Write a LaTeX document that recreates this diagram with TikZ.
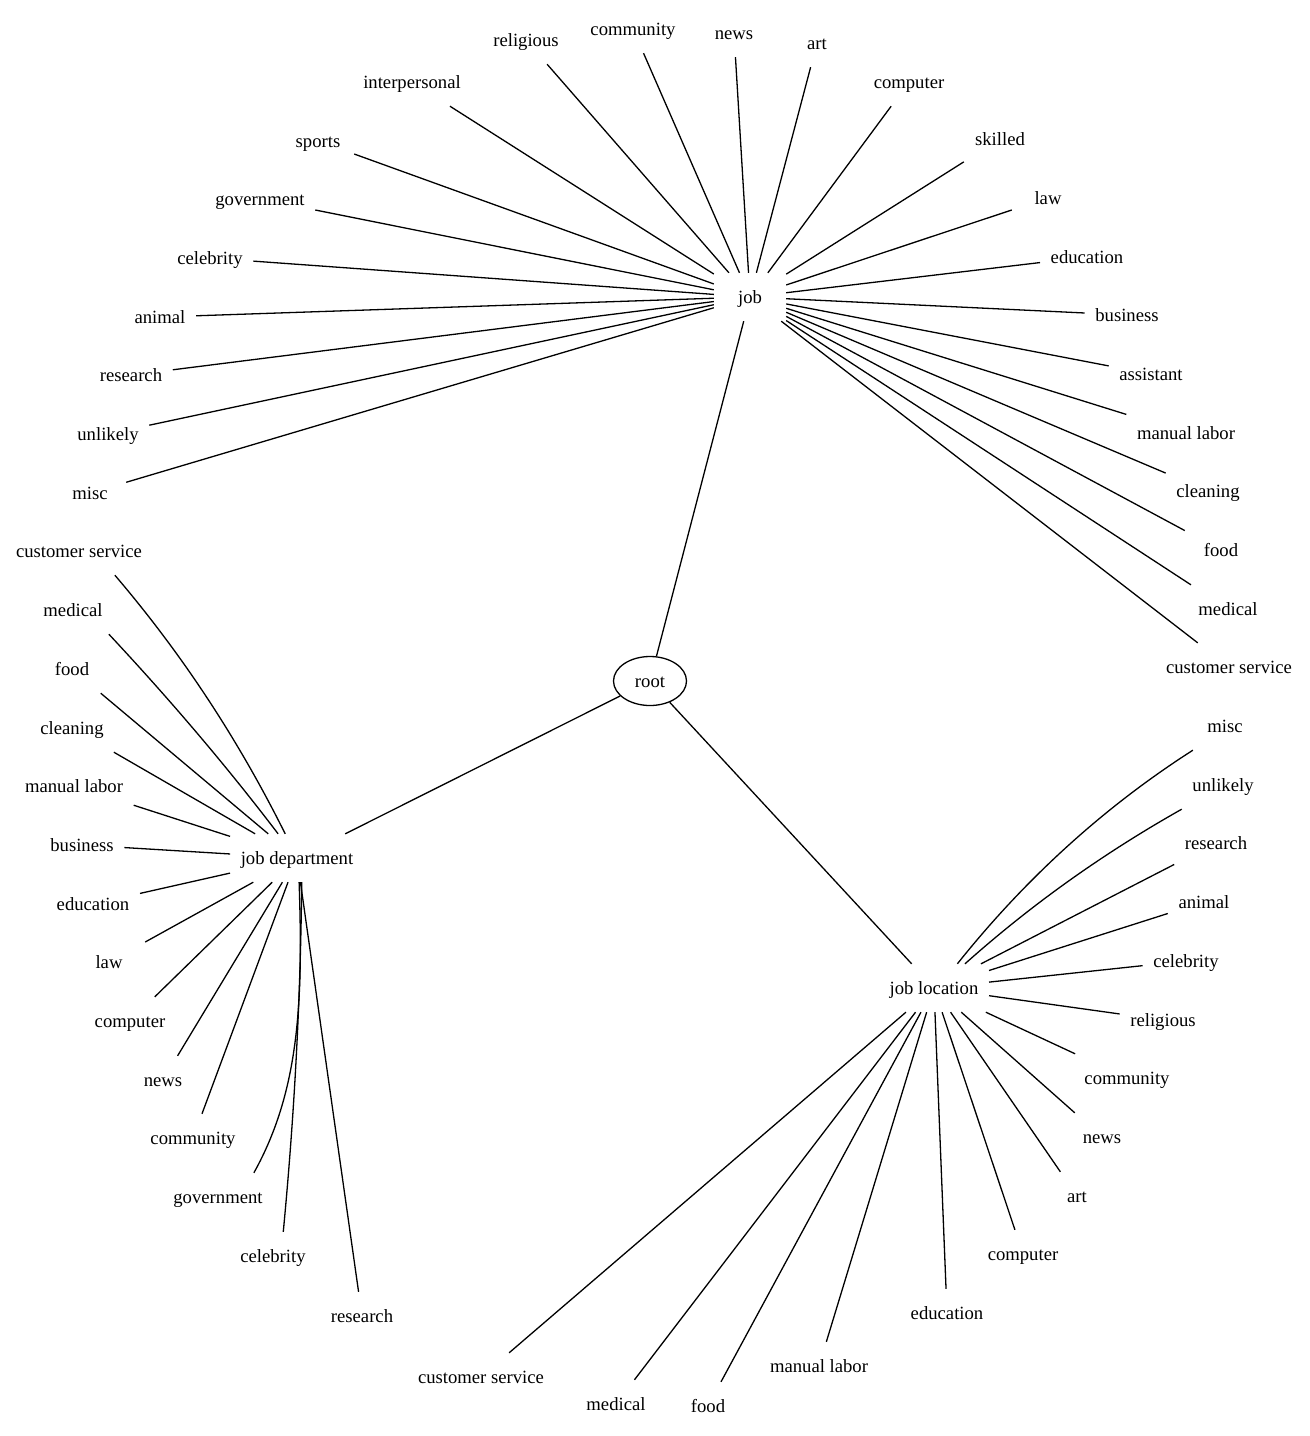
\documentclass[tikz,border=0pt]{standalone}
\usepackage{fontspec}
\setmainfont{Liberation Serif}
\usetikzlibrary{shapes.geometric}
\begin{document}
\begin{tikzpicture}[x=1pt,y=-1pt,
  lbl/.style={font=\fontsize{18.67}{22}\selectfont, minimum width=72pt, minimum height=48pt,
    inner xsep=10.5pt, inner ysep=0pt, text height=17pt, text depth=5pt},
  rootnode/.style={draw, ellipse, line width=1.3pt, font=\fontsize{18.67}{22}\selectfont,
    minimum width=73pt, minimum height=49pt, inner sep=0pt, text height=17pt, text depth=5pt},
  edge/.style={line width=1.3pt}]
\path[fill=white, use as bounding box] (0,0) rectangle (1310,1436);

% hubs
\node[rootnode] (root) at (650,681) {root};
\node[lbl] (job) at (750,297) {job};
\node[lbl] (dep) at (297,858) {job department};
\node[lbl] (loc) at (934,988) {job location};

% job leaves
\node[lbl] (jrel) at (526,40) {religious};
\node[lbl] (jcom) at (633,29) {community};
\node[lbl] (jnew) at (734,33) {news};
\node[lbl] (jart) at (817,43) {art};
\node[lbl] (jcmp) at (909,82) {computer};
\node[lbl] (jski) at (1000,139) {skilled};
\node[lbl] (jlaw) at (1048,198) {law};
\node[lbl] (jedu) at (1087,257) {education};
\node[lbl] (jbus) at (1127,315) {business};
\node[lbl] (jass) at (1151,374) {assistant};
\node[lbl] (jman) at (1186,433) {manual labor};
\node[lbl] (jcln) at (1208,491) {cleaning};
\node[lbl] (jfoo) at (1221,550) {food};
\node[lbl] (jmed) at (1228,609) {medical};
\node[lbl] (jcus) at (1229,667) {customer service};
\node[lbl] (jint) at (412,82) {interpersonal};
\node[lbl] (jspo) at (318,141) {sports};
\node[lbl] (jgov) at (260,199) {government};
\node[lbl] (jcel) at (210,258) {celebrity};
\node[lbl] (jani) at (160,317) {animal};
\node[lbl] (jres) at (131,375) {research};
\node[lbl] (junl) at (108,434) {unlikely};
\node[lbl] (jmis) at (90,493) {misc};

% job department leaves
\node[lbl] (dcus) at (79,551) {customer service};
\node[lbl] (dmed) at (73,610) {medical};
\node[lbl] (dfoo) at (72,669) {food};
\node[lbl] (dcln) at (72,728) {cleaning};
\node[lbl] (dman) at (74,786) {manual labor};
\node[lbl] (dbus) at (82,845) {business};
\node[lbl] (dedu) at (93,904) {education};
\node[lbl] (dlaw) at (109,962) {law};
\node[lbl] (dcmp) at (130,1021) {computer};
\node[lbl] (dnew) at (163,1080) {news};
\node[lbl] (dcom) at (193,1138) {community};
\node[lbl] (dgov) at (218,1197) {government};
\node[lbl] (dcel) at (273,1256) {celebrity};
\node[lbl] (dres) at (362,1316) {research};

% job location leaves
\node[lbl] (lmis) at (1225,726) {misc};
\node[lbl] (lunl) at (1223,785) {unlikely};
\node[lbl] (lres) at (1216,843) {research};
\node[lbl] (lani) at (1204,902) {animal};
\node[lbl] (lcel) at (1186,961) {celebrity};
\node[lbl] (lrel) at (1163,1020) {religious};
\node[lbl] (lcom) at (1127,1078) {community};
\node[lbl] (lnew) at (1102,1137) {news};
\node[lbl] (lart) at (1077,1196) {art};
\node[lbl] (lcmp) at (1023,1254) {computer};
\node[lbl] (ledu) at (947,1313) {education};
\node[lbl] (lman) at (819,1366) {manual labor};
\node[lbl] (lfoo) at (708,1406) {food};
\node[lbl] (lmed) at (616,1404) {medical};
\node[lbl] (lcus) at (481,1377) {customer service};

% edges from root
\draw[edge] (root) -- (job);
\draw[edge] (root) -- (dep);
\draw[edge] (root) -- (loc);

% job edges
\foreach \n in {jrel,jcom,jnew,jart,jcmp,jski,jlaw,jedu,jbus,jass,jman,jcln,jfoo,jmed,jcus,jint,jspo,jgov,jcel,jani,jres,junl,jmis}
  \draw[edge] (job) -- (\n);

% job department edges
\foreach \n in {dfoo,dcln,dman,dbus,dedu,dlaw,dcmp,dnew,dcom,dres}
  \draw[edge] (dep) -- (\n);
\draw[edge] (dcus.-34) .. controls (183,655) and (239,741) .. (dep.116);
\draw[edge] (dmed.-34) .. controls (168.5,698) and (225,764) .. (dep.128);
\draw[edge] (dgov.34) .. controls (300,1090) and (303,1000) .. (dep.-85);
\draw[edge] (dcel.67) .. controls (294.4,1115) and (300.6,999) .. (dep.-79);

% job location edges
\foreach \n in {lres,lani,lcel,lrel,lcom,lnew,lart,lcmp,ledu,lman,lfoo,lmed,lcus}
  \draw[edge] (loc) -- (\n);
\draw[edge] (loc.46) .. controls (1025,879) and (1104,807) .. (lmis.-143);
\draw[edge] (loc.38) .. controls (1032,904) and (1104,853) .. (lunl.south west);
\end{tikzpicture}
\end{document}
